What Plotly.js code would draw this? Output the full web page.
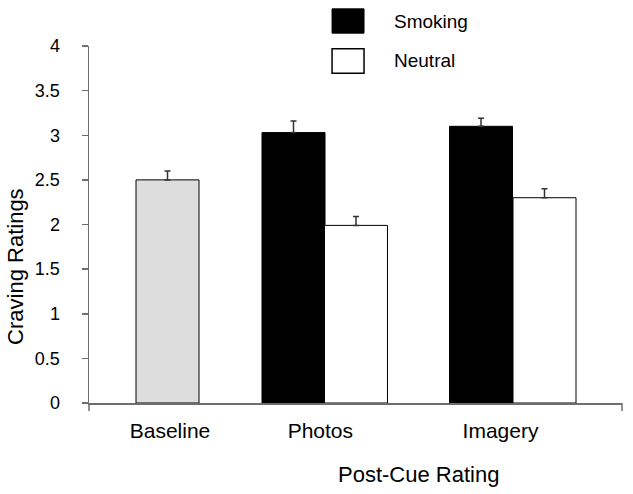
<!DOCTYPE html>
<html>
<head>
<meta charset="utf-8">
<script src="https://cdn.plot.ly/plotly-3.0.1.min.js"></script>
<style>html,body{margin:0;padding:0;background:#fff;}#chart{width:633px;height:494px;}</style>
</head>
<body>
<div id="chart"></div>
<script>
// ---- data ----
const categories = ["Baseline", "Photos", "Imagery"];
const seriesNames = ["Smoking", "Neutral"];
const baselineValue = [2.50];
const baselineError = [0.10];
const smokingValues = [3.03, 3.10];   // Photos, Imagery
const smokingErrors = [0.13, 0.09];
const neutralValues = [1.99, 2.30];
const neutralErrors = [0.10, 0.10];
const yTicks = [0, 0.5, 1, 1.5, 2, 2.5, 3, 3.5, 4];

// ---- layout constants (positions on a 0..10 x scale) ----
const baselinePos = [1.473];
const smokingPos = [3.837, 7.355];
const neutralPos = [5.009, 8.546];
const labelPos = [1.52, 4.34, 7.72];
const barW = 1.182;

const errStyle = (arr) => ({type: 'data', array: arr, arrayminus: arr.map(() => 0), symmetric: false,
  color: '#333333', thickness: 1.5, width: 3});

const traces = [
  {type: 'bar', name: categories[0], x: baselinePos, y: baselineValue, width: barW,
   marker: {color: '#dddddd', line: {color: '#000', width: 1}}, error_y: errStyle(baselineError), showlegend: false},
  {type: 'bar', name: seriesNames[0], x: smokingPos, y: smokingValues, width: barW,
   marker: {color: '#000000', line: {color: '#000', width: 1}}, error_y: errStyle(smokingErrors), showlegend: false},
  {type: 'bar', name: seriesNames[1], x: neutralPos, y: neutralValues, width: barW,
   marker: {color: '#ffffff', line: {color: '#000', width: 1}}, error_y: errStyle(neutralErrors), showlegend: false}
];

const font = 'Liberation Sans, Arial, sans-serif';
const axisColor = '#6e6e6e';

const layout = {
  width: 633, height: 494,
  margin: {l: 89, r: 11, t: 46, b: 91},
  paper_bgcolor: '#fff', plot_bgcolor: '#fff',
  barmode: 'overlay',
  showlegend: false,
  font: {family: font, color: '#000'},
  xaxis: {
    range: [0, 10], showgrid: false, zeroline: false,
    showline: true, linecolor: axisColor, linewidth: 1.5,
    tickmode: 'array', tickvals: labelPos, ticktext: categories,
    ticks: '', tickfont: {family: font, size: 21, color: '#000'},
    ticklabelstandoff: 8
  },
  yaxis: {
    range: [0, 4], showgrid: false, zeroline: false,
    showline: true, linecolor: axisColor, linewidth: 1.5,
    tickmode: 'array', tickvals: yTicks, ticktext: yTicks.map(String),
    ticks: 'outside', ticklen: 6, tickwidth: 1.5, tickcolor: axisColor,
    tickfont: {family: font, size: 18, color: '#000'},
    ticklabelstandoff: 18
  },
  shapes: [
    {type: 'line', xref: 'paper', yref: 'paper', ysizemode: 'pixel', yanchor: 0, x0: 0, x1: 0, y0: 0, y1: -8,
     line: {color: axisColor, width: 1.5}},
    {type: 'line', xref: 'paper', yref: 'paper', ysizemode: 'pixel', yanchor: 0, x0: 1, x1: 1, y0: 0, y1: -8,
     line: {color: axisColor, width: 1.5}},
    {type: 'rect', xref: 'paper', yref: 'paper', x0: 0.456, x1: 0.516, y0: 1.036, y1: 1.104,
     fillcolor: '#000', line: {color: '#000', width: 1}},
    {type: 'rect', xref: 'paper', yref: 'paper', x0: 0.456, x1: 0.516, y0: 0.924, y1: 0.992,
     fillcolor: '#fff', line: {color: '#000', width: 1.5}}
  ],
  annotations: [
    {xref: 'paper', yref: 'paper', x: 0.568, y: 1.070, xanchor: 'left', yanchor: 'middle', showarrow: false,
     text: seriesNames[0], font: {family: font, size: 19, color: '#000'}},
    {xref: 'paper', yref: 'paper', x: 0.568, y: 0.958, xanchor: 'left', yanchor: 'middle', showarrow: false,
     text: seriesNames[1], font: {family: font, size: 19, color: '#000'}},
    {xref: 'paper', yref: 'paper', x: 0.619, y: -0.200, xanchor: 'center', yanchor: 'middle', showarrow: false,
     text: 'Post-Cue Rating', font: {family: font, size: 22, color: '#000'}},
    {xref: 'paper', yref: 'paper', x: -0.137, y: 0.384, xanchor: 'center', yanchor: 'middle', showarrow: false,
     textangle: -90, text: 'Craving Ratings', font: {family: font, size: 22, color: '#000'}}
  ]
};

Plotly.newPlot('chart', traces, layout, {displayModeBar: false, staticPlot: true});
</script>
</body>
</html>
